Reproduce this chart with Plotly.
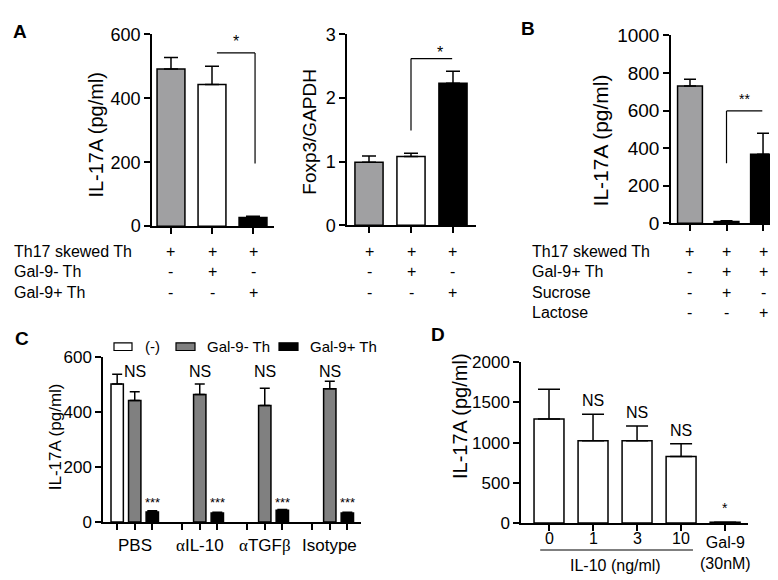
import plotly.graph_objects as go

W, H = 778, 580
FONT = "Liberation Sans, Arial, sans-serif"

# ---------------- data ----------------
A_rows = ["Th17 skewed Th", "Gal-9- Th", "Gal-9+ Th"]
A_signs = [["+", "+", "+"], ["-", "+", "-"], ["-", "-", "+"]]
A1_il17 = [492, 443, 27]
A1_il17_err = [36, 57, 4]
A2_foxp3 = [0.99, 1.08, 2.23]
A2_foxp3_err = [0.10, 0.05, 0.19]
A_colors = ["#a0a0a2", "#ffffff", "#000000"]

B_rows = ["Th17 skewed Th", "Gal-9+ Th", "Sucrose", "Lactose"]
B_signs = [["+", "+", "+"], ["-", "+", "+"], ["-", "+", "-"], ["-", "-", "+"]]
B_il17 = [730, 9, 368]
B_il17_err = [36, 4, 111]
B_colors = ["#a0a0a2", "#000000", "#000000"]

GREEK = '<span style="font-family:Liberation Serif, serif">%s</span>'
C_groups = ["PBS", GREEK % "α" + "IL-10", GREEK % "α" + "TGF" + GREEK % "β", "Isotype"]
C_series = ["(-)", "Gal-9- Th", "Gal-9+ Th"]
C_neg = [503, None, None, None]
C_neg_err = [35, None, None, None]
C_gal9neg = [443, 464, 424, 485]
C_gal9neg_err = [31, 39, 63, 28]
C_gal9pos = [37, 33, 43, 33]
C_gal9pos_err = [4, 3, 3, 3]
C_colors = ["#ffffff", "#808080", "#000000"]
C_sig = ["NS", "***"]

D_cats = ["0", "1", "3", "10", "Gal-9<br>(30nM)"]
D_il17 = [1292, 1022, 1022, 827, 10]
D_il17_err = [370, 330, 183, 159, 0]
D_sig = ["", "NS", "NS", "NS", "*"]


# ---------------- helpers ----------------
def px(x):
    return x / W


def py(y):
    return 1 - y / H


def xax(left, right, rng, tickvals, anchor):
    return dict(domain=[px(left), px(right)], range=rng, anchor=anchor,
                tickvals=tickvals, showticklabels=False,
                showline=True, linecolor="black", linewidth=1.5,
                ticks="outside", ticklen=6, tickwidth=1.5, tickcolor="black",
                showgrid=False, zeroline=False, fixedrange=True)


def yax(top, bot, rng, tickvals, anchor, size):
    return dict(domain=[py(bot), py(top)], range=rng, anchor=anchor,
                tickvals=tickvals, showline=True, linecolor="black",
                linewidth=1.5, ticks="outside", ticklen=6, tickwidth=1.5,
                tickcolor="black", showgrid=False, zeroline=False,
                tickfont=dict(family=FONT, size=size, color="black"),
                fixedrange=True)


def bar(x, y, err, colors, xa, ya, width, cap, name=None):
    return go.Bar(x=x, y=y, width=width, xaxis=xa, yaxis=ya, name=name,
                  showlegend=False,
                  marker=dict(color=colors, line=dict(color="black", width=1.5)),
                  error_y=dict(type="data", symmetric=False, array=err,
                               arrayminus=[0] * len(err), color="black",
                               thickness=1.5, width=cap))


annotations = []
shapes = []


def ann(text, x, y, xref="paper", yref="paper", size=16, xanchor="center",
        yanchor="middle", bold=False, angle=0):
    """x, y are pixel positions when the reference is 'paper'."""
    if xref == "paper":
        x = px(x)
    if yref == "paper":
        y = py(y)
    annotations.append(dict(text=("<b>%s</b>" % text) if bold else text,
                            x=x, y=y, xref=xref, yref=yref, showarrow=False,
                            xanchor=xanchor, yanchor=yanchor, textangle=angle,
                            font=dict(family=FONT, size=size, color="black")))


def line(x0, y0, x1, y1, xref, yref, w=1.2):
    shapes.append(dict(type="line", x0=x0, y0=y0, x1=x1, y1=y1, xref=xref,
                       yref=yref, line=dict(color="black", width=w)))


fig = go.Figure()

# ---------------- panels A and B ----------------
pos3 = [0, 1, 2]
fig.add_trace(bar(pos3, A1_il17, A1_il17_err, A_colors, "x", "y", 0.68, 7))
fig.add_trace(bar(pos3, A2_foxp3, A2_foxp3_err, A_colors, "x2", "y2", 0.67, 7))
fig.add_trace(bar(pos3, B_il17, B_il17_err, B_colors, "x3", "y3", 0.68, 6))

# ---------------- panel C ----------------
offs = [-0.27, 0.0, 0.27]
C_vals = [C_neg, C_gal9neg, C_gal9pos]
C_errs = [C_neg_err, C_gal9neg_err, C_gal9pos_err]
for k, (vals, errs) in enumerate(zip(C_vals, C_errs)):
    xs = [g + offs[k] for g, v in enumerate(vals) if v is not None]
    ys = [v for v in vals if v is not None]
    es = [e for e in errs if e is not None]
    fig.add_trace(bar(xs, ys, es, C_colors[k], "x4", "y4", 0.19, 5, C_series[k]))

# ---------------- panel D ----------------
pos5 = list(range(len(D_il17)))
fig.add_trace(bar(pos5, D_il17, D_il17_err, "#ffffff", "x5", "y5", 0.68, 11))

C_ticks = [g + o for g in range(len(C_groups)) for o in offs]

fig.update_layout(
    width=W, height=H, margin=dict(l=0, r=0, t=0, b=0),
    paper_bgcolor="white", plot_bgcolor="white", barmode="overlay",
    showlegend=False,
    xaxis=xax(144, 266, [-0.463, 2.512], pos3, "y"),
    yaxis=yax(17, 216, [0, 600], [0, 200, 400, 600], "x", 18),
    xaxis2=xax(339, 468, [-0.524, 2.548], pos3, "y2"),
    yaxis2=yax(17, 215, [0, 3], [0, 1, 2, 3], "x2", 18),
    xaxis3=xax(663, 770, [-0.52, 2.41], pos3, "y3"),
    yaxis3=yax(18, 213, [0, 1000], [0, 200, 400, 600, 800, 1000], "x3", 19),
    xaxis4=xax(95, 353, [-0.488, 3.48], C_ticks, "y4"),
    yaxis4=yax(352, 523, [0, 600], [0, 200, 400, 600], "x4", 17),
    xaxis5=xax(513, 740, [-0.636, 4.52], pos5, "y5"),
    yaxis5=yax(357, 524, [0, 2000], [0, 500, 1000, 1500, 2000], "x5", 17),
)

# panel letters
ann("A", 12, 14, size=19, bold=True)
ann("B", 520, 11, size=19, bold=True)
ann("C", 14, 333, size=19, bold=True)
ann("D", 430, 328, size=19, bold=True)

# y titles
ann("IL-17A (pg/ml)", 88, 121, size=20, angle=-90)
ann("Foxp3/GAPDH", 302, 118, size=19, angle=-90)
ann("IL-17A (pg/ml)", 592, 127, size=21, angle=-90)
ann("IL-17A (pg/ml)", 47, 435, size=17, angle=-90)
ann("IL-17A (pg/ml)", 452, 413, size=20, angle=-90)

# condition tables, panel A
A_row_y = [242, 263, 285]
for r, lab in enumerate(A_rows):
    ann(lab, 4, A_row_y[r], xanchor="left", size=16)
    for i in pos3:
        ann(A_signs[r][i], i, A_row_y[r], xref="x", size=16)
        ann(A_signs[r][i], i, A_row_y[r], xref="x2", size=16)

# condition table, panel B
B_row_y = [242, 263, 285, 306]
for r, lab in enumerate(B_rows):
    ann(lab, 522, B_row_y[r], xanchor="left", size=16)
    for i in pos3:
        ann(B_signs[r][i], i, B_row_y[r], xref="x3", size=16)

# significance brackets
line(1.12, 542, 2.05, 542, "x", "y")
line(2.05, 542, 2.05, 196, "x", "y")
ann("*", 1.59, 578, xref="x", yref="y", size=16)
line(1.0, 2.62, 1.98, 2.62, "x2", "y2")
line(1.0, 2.62, 1.0, 1.49, "x2", "y2")
ann("*", 1.69, 2.72, xref="x2", yref="y2", size=16)
line(1.0, 598, 1.98, 598, "x3", "y3")
line(1.0, 598, 1.0, 320, "x3", "y3")
ann("**", 1.5, 662, xref="x3", yref="y3", size=14)

# panel C: legend, labels, significance
leg_boxes = [(106, 124), (168, 187), (271, 290)]
leg_text_x = [135, 197, 300]
for k, name in enumerate(C_series):
    x0, x1 = leg_boxes[k]
    shapes.append(dict(type="rect", xref="paper", yref="paper",
                       x0=px(x0), x1=px(x1), y0=py(345), y1=py(337),
                       fillcolor=C_colors[k], line=dict(color="black", width=1.2)))
    ann(name, leg_text_x[k], 341, xanchor="left", size=15)
for g, lab in enumerate(C_groups):
    ann(lab, g, 547, xref="x4", size=17)
    ann(C_sig[0], g, 547, xref="x4", yref="y4", size=16)
    ann(C_sig[1], g + offs[2], 72, xref="x4", yref="y4", size=13)

# panel D: category labels, bracket line, significance
for i, lab in enumerate(D_cats[:4]):
    ann(lab, i, 540, xref="x5", size=16)
ann(D_cats[4], 4, 555, xref="x5", size=16)
shapes.append(dict(type="line", xref="x5", yref="paper", x0=-0.2, x1=3.27,
                   y0=py(552), y1=py(552), line=dict(color="black", width=1.2)))
ann("IL-10 (ng/ml)", 1.5, 568, xref="x5", size=16)
for i, s in enumerate(D_sig):
    if s == "NS":
        annotations.append(dict(text=s, x=i, y=D_il17[i] + D_il17_err[i],
                                xref="x5", yref="y5", showarrow=False,
                                yanchor="bottom", yshift=3,
                                font=dict(family=FONT, size=16, color="black")))
    elif s:
        annotations.append(dict(text=s, x=i, y=D_il17[i] + D_il17_err[i],
                                xref="x5", yref="y5", showarrow=False,
                                yanchor="middle", yshift=14,
                                font=dict(family=FONT, size=14, color="black")))

fig.update_layout(annotations=annotations, shapes=shapes)
fig.write_html("out.html")
